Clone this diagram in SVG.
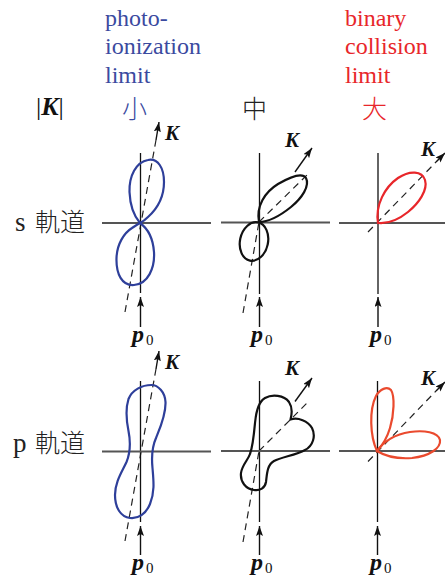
<svg xmlns="http://www.w3.org/2000/svg" width="445" height="579" viewBox="0 0 445 579">
<defs>
<marker id="ah" markerWidth="11" markerHeight="8" refX="10" refY="3.5" orient="auto" markerUnits="userSpaceOnUse">
<path d="M0,0 L10,3.5 L0,7 L2,3.5 Z" fill="#111"/>
</marker>
</defs>
<style>
.vax{stroke:#111;stroke-width:1.3;fill:none}
.hax{stroke:#555;stroke-width:1.8;fill:none}
.dash{stroke:#222;stroke-width:1.2;stroke-dasharray:7 5;fill:none}
.arr{stroke:#111;stroke-width:1.4;fill:none;marker-end:url(#ah)}
.blue{stroke:#2e3f9a;stroke-width:2.2;fill:none}
.black{stroke:#111;stroke-width:2.2;fill:none}
.red{stroke:#e8262a;stroke-width:2.2;fill:none}
.orange{stroke:#ea4a2e;stroke-width:2.2;fill:none}
.ttl{font-family:"Liberation Serif",serif;font-size:24px}
.kl{font-family:"Liberation Serif",serif;font-size:21px;font-weight:bold;font-style:italic;fill:#111}
.pl{font-family:"Liberation Serif",serif;font-size:24px;font-weight:bold;font-style:italic;fill:#111}
.sub{font-family:"Liberation Serif",serif;font-size:15px;fill:#111}
.cjk{font-family:"Noto Sans CJK JP",sans-serif;font-size:25px;font-weight:300}
.row{font-family:"Liberation Serif",serif;font-size:27px;fill:#222}
</style>

<g id="title-photo" class="ttl" fill="#3b4a9f">
<text x="105" y="26">photo-</text>
<text x="105" y="54">ionization</text>
<text x="105" y="83">limit</text>
</g>
<g id="title-binary" class="ttl" fill="#e8262a">
<text x="345" y="26">binary</text>
<text x="345" y="54">collision</text>
<text x="345" y="83">limit</text>
</g>
<g id="header-K">
<text x="36" y="115" font-family="'Liberation Serif',serif" font-size="26" fill="#111">|<tspan font-weight="bold" font-style="italic">K</tspan>|</text>
</g>
<g id="header-small"><text x="122" y="118" class="cjk" fill="#3b4a9f">小</text></g>
<g id="header-mid"><text x="242" y="118" class="cjk" fill="#222">中</text></g>
<g id="header-large"><text x="362" y="118" class="cjk" fill="#e8262a">大</text></g>
<g id="row-s">
<text x="15" y="231" class="row">s</text>
<text x="35" y="231" class="cjk" fill="#222">軌道</text>
</g>
<g id="row-p">
<text x="13" y="452" class="row">p</text>
<text x="35" y="452" class="cjk" fill="#222">軌道</text>
</g>

<g id="connectors">
<line class="dash" x1="125" y1="312" x2="156" y2="140"/>
<line class="arr" x1="156" y1="140" x2="159" y2="122"/>
<line class="arr" x1="140.5" y1="327" x2="140.5" y2="297"/>
<line class="dash" x1="243" y1="313" x2="259" y2="222"/>
<line class="dash" x1="259" y1="222" x2="307" y2="175"/>
<line class="arr" x1="295" y1="172" x2="312" y2="148"/>
<line class="arr" x1="259.5" y1="327" x2="259.5" y2="297"/>
<line class="dash" x1="368" y1="232" x2="436" y2="162"/>
<line class="arr" x1="436" y1="162" x2="445" y2="153"/>
<line class="arr" x1="378" y1="327" x2="378" y2="297"/>
<line class="dash" x1="125" y1="541" x2="156" y2="369"/>
<line class="arr" x1="156" y1="369" x2="159" y2="351"/>
<line class="arr" x1="140.5" y1="555" x2="140.5" y2="526"/>
<line class="dash" x1="243" y1="542" x2="259" y2="451"/>
<line class="dash" x1="259" y1="451" x2="308" y2="402"/>
<line class="arr" x1="295" y1="401.5" x2="312" y2="378"/>
<line class="arr" x1="259.5" y1="555" x2="259.5" y2="526"/>
<line class="dash" x1="368" y1="461.5" x2="436" y2="391"/>
<line class="arr" x1="436" y1="391" x2="445" y2="382"/>
<line class="arr" x1="377.5" y1="555" x2="377.5" y2="526"/>
</g>

<g id="panel-s-small">
<line class="vax" x1="140.5" y1="153" x2="140.5" y2="293"/>
<line class="hax" x1="102" y1="223" x2="211" y2="223"/>
<path class="blue" d="M140,223 C134,216 130,204 129.5,192 C129,176 136,162 148,160 C158,158 164,168 164,182 C164,196 158,208 148,217 C145,220 142,222 140,223 Z"/>
<path class="blue" d="M140,223 C147,228 153,238 154,252 C155,268 148,284 134,285 C122,286 116,274 116.5,258 C117,244 124,233 132,228 C135,226 138,224 140,223 Z"/>
<text class="kl" x="165" y="140">K</text>
<text class="pl" x="132" y="342">p</text><text class="sub" x="146" y="345">0</text>
</g>

<g id="panel-s-mid">
<line class="vax" x1="259.5" y1="153" x2="259.5" y2="294"/>
<line class="hax" x1="221" y1="222.5" x2="330" y2="222.5"/>
<path class="black" d="M259,222 C256,206 265,192 278,184 C290,177 302,172 306,178 C310,186 302,198 291,207 C281,215 270,222 259,222 Z"/>
<ellipse class="black" cx="254" cy="241.5" rx="14" ry="19.5" transform="rotate(12 254 241.5)"/>
<text class="kl" x="285" y="147">K</text>
<text class="pl" x="251" y="342">p</text><text class="sub" x="265" y="345">0</text>
</g>

<g id="panel-s-large">
<line class="vax" x1="378" y1="153" x2="378" y2="294"/>
<line class="hax" x1="339" y1="223" x2="445" y2="223"/>
<path class="red" d="M378,223 C375,205 385,187 398,178 C410,170 422,171 425,180 C428,190 419,203 408,212 C398,220 388,224 378,223 Z"/>
<text class="kl" x="421" y="156">K</text>
<text class="pl" x="370" y="342">p</text><text class="sub" x="384" y="345">0</text>
</g>

<g id="panel-p-small">
<line class="vax" x1="140.5" y1="381" x2="140.5" y2="522"/>
<line class="hax" x1="102" y1="451.5" x2="211" y2="451.5"/>
<path class="blue" d="M151.5,385 C158,385 165,392 165.5,402 C166,415 160,428 156,438 C152,447 151.5,458 152.5,468 C153.5,480 155,492 150,504 C146,514 138,519 130,518 C121,517 115,508 115,495 C115,482 122,472 126.5,462 C130.5,452 130.5,441 128.5,431 C126.5,421 125,410 128.5,399 C132,390 142,385 151.5,385 Z"/>
<text class="kl" x="165" y="369">K</text>
<text class="pl" x="132" y="570">p</text><text class="sub" x="146" y="573">0</text>
</g>

<g id="panel-p-mid">
<line class="vax" x1="259.5" y1="381" x2="259.5" y2="522"/>
<line class="hax" x1="221" y1="451" x2="330" y2="451"/>
<path class="black" d="M255,423 C256,412 258,402 265,398 C272,394 284,395 289,402 C293,408 292,414 290.5,419.5 C298,417 308,421 312,428 C316,436 313,446 305,450 C296,455 282,457 274,461 C267,465 267,474 266,482 C265,488 260,491 254,490 C246,489 240,482 241,473 C242,465 248,460 250,454 C253,446 254,434 255,423 Z"/>
<text class="kl" x="285" y="375">K</text>
<text class="pl" x="251" y="570">p</text><text class="sub" x="265" y="573">0</text>
</g>

<g id="panel-p-large">
<line class="vax" x1="377.5" y1="381" x2="377.5" y2="522"/>
<line class="hax" x1="339" y1="451" x2="445" y2="451"/>
<path class="orange" d="M377,451 C370,436 369,410 376,396 C380,389 387,386 391,390 C395,396 394,415 390,428 C387,438 382,446 377,451 Z"/>
<path class="orange" d="M377,451 C383,442 395,434 410,432 C424,430 438,432 440,440 C441,448 430,456 412,458 C398,459 385,456 377,451 Z"/>
<text class="kl" x="421" y="385">K</text>
<text class="pl" x="370" y="570">p</text><text class="sub" x="384" y="573">0</text>
</g>
</svg>
